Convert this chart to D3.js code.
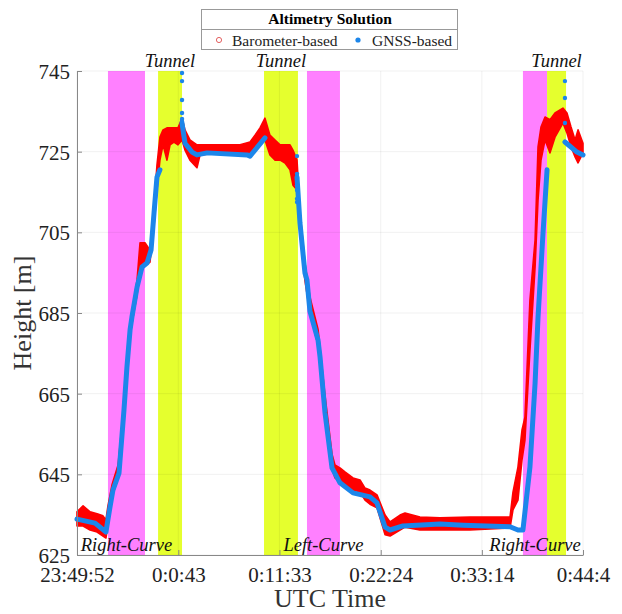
<!DOCTYPE html>
<html>
<head>
<meta charset="utf-8">
<script src="https://cdn.jsdelivr.net/npm/d3@7"></script>
<style>
  body { margin: 0; background: #fff; }
  text { font-family: "Liberation Serif", "DejaVu Serif", serif; }
</style>
</head>
<body>
<div id="chart"></div>
<script>
// time in seconds after 23:49:52, height in metres
const xTickValues = [0, 651, 1301, 1952, 2602, 3252];
const xTickLabels = ["23:49:52", "0:0:43", "0:11:33", "0:22:24", "0:33:14", "0:44:4"];
const yTickValues = [625, 645, 665, 685, 705, 725, 745];

// shaded segments: [start, end, kind]
const zoneStart = [199, 521, 1202, 1478, 2866, 3021];
const zoneEnd   = [437, 675, 1420, 1690, 3021, 3143];
const zoneKind  = ["curve", "tunnel", "tunnel", "curve", "curve", "tunnel"];

const labelText = ["Tunnel", "Tunnel", "Tunnel", "Right-Curve", "Left-Curve", "Right-Curve"];
const labelTime = [598, 1311, 3082, 318, 1584, 2944];
const labelPos  = ["top", "top", "top", "bottom", "bottom", "bottom"];

// barometer band (min / max of the dense point cloud)
const baroT  = [0, 39, 84, 129, 167, 186, 199, 225, 264, 289, 308, 328, 347, 366, 386, 405, 437, 469, 495, 514, 533, 553, 578, 598, 623, 649, 675, 694, 726, 771, 791, 919, 1048, 1112, 1144, 1176, 1208, 1240, 1273, 1305, 1337, 1369, 1388, 1414, 1433, 1465, 1497, 1549, 1594, 1639, 1658, 1690, 1722, 1774, 1819, 1851, 1883, 1928, 1980, 2012, 2076, 2108, 2204, 2333, 2526, 2783, 2802, 2834, 2860, 2879, 2911, 2944, 2963, 2982, 3008, 3040, 3072, 3123, 3149, 3175, 3201, 3220, 3252];
const baroLo = [632.2, 632.2, 631.2, 630.7, 629.7, 629.2, 632.4, 639.4, 644.1, 653.5, 663.4, 673.3, 680.8, 685.2, 689.5, 696.4, 696.9, 697.6, 706.8, 715.5, 722.9, 726.7, 722.9, 726.7, 727.4, 726.7, 727.9, 725.4, 722.9, 721.0, 724.2, 724.7, 724.7, 724.2, 725.4, 727.1, 727.9, 724.2, 722.9, 722.9, 722.2, 720.5, 716.7, 715.5, 705.5, 693.0, 685.0, 677.0, 660.5, 646.5, 644.1, 643.1, 641.6, 641.1, 640.6, 638.6, 637.6, 636.7, 630.0, 629.7, 631.2, 631.9, 631.2, 631.2, 631.2, 631.7, 636.2, 638.6, 648.6, 653.5, 675.8, 696.4, 713.0, 722.9, 727.9, 724.7, 728.6, 732.1, 729.6, 726.2, 723.7, 722.2, 724.7];
const baroHi = [635.7, 637.2, 635.7, 635.2, 634.7, 633.7, 637.2, 642.4, 647.3, 657.2, 667.2, 677.1, 683.8, 688.2, 693.2, 702.4, 702.4, 700.6, 711.8, 721.7, 728.6, 730.4, 730.9, 730.9, 730.9, 730.9, 733.3, 730.4, 727.9, 726.7, 726.7, 726.7, 726.7, 727.4, 729.1, 730.9, 733.3, 729.1, 727.9, 726.7, 726.7, 726.7, 725.4, 722.9, 710.0, 697.5, 689.0, 681.0, 664.5, 650.0, 647.3, 646.6, 645.6, 644.1, 643.6, 641.6, 641.1, 639.9, 634.9, 633.2, 634.9, 635.4, 634.4, 634.2, 634.4, 634.4, 640.6, 646.8, 656.0, 659.2, 688.2, 703.1, 726.2, 731.1, 733.6, 732.9, 734.6, 735.8, 734.6, 731.1, 727.9, 730.4, 727.1];

// GNSS track, null = no fix (tunnel)
const gnssT = [0, 116, 186, 212, 231, 270, 302, 321, 341, 353, 386, 418, 450, 476, 495, 514, 533, null,
               675, 694, 739, 771, 836, 1093, 1112, 1208, null,
               1414, 1433, 1465, 1478, 1497, 1549, 1562, 1594, 1639, 1690, 1774, 1883, 1928, 1980, 2012, 2095, 2333, 2481, 2783, 2834, 2866, 2911, 2944, 2963, 2995, 3021, null,
               3136, 3213, 3252];
const gnssH = [633.9, 632.9, 630.7, 636.9, 641.1, 645.3, 661.0, 671.6, 680.8, 684.0, 691.4, 696.4, 697.4, 700.6, 709.8, 718.7, 720.5, null,
               732.1, 727.1, 724.9, 724.2, 724.7, 724.2, 723.9, 728.4, null,
               718.7, 707.3, 694.9, 693.2, 685.5, 678.3, 674.1, 660.2, 646.6, 642.9, 640.4, 639.4, 637.9, 631.9, 631.2, 632.2, 632.7, 632.4, 632.0, 631.2, 631.2, 646.8, 667.6, 684.0, 704.8, 720.5, null,
               727.4, 724.9, 724.2];

// isolated GNSS fixes inside tunnels
const outT = [675, 675, 675, 675, 675, 675, 1414, 1414, 1414, 1414, 1414, 1414, 1414, 3136, 3136, 3136];
const outH = [744.5, 742.5, 737.8, 734.6, 733.1, 732.4, 723.9, 719.5, 718.5, 716.7, 715.5, 713.3, 712.5, 742.5, 738.3, 732.1];

const W = 622, H = 614;
const mLeft = 77, mRight = 583, mTop = 71, mBottom = 555;

const svg = d3.select("#chart").append("svg")
  .attr("width", W).attr("height", H);

const x = d3.scaleLinear().domain([0, 3252]).range([mLeft, mRight]);
const y = d3.scaleLinear().domain([625, 745]).range([mBottom, mTop]);

const zoneColor = { curve: "#ff80ff", tunnel: "#e5ff2e" };

// shaded zones
svg.append("g").selectAll("rect")
  .data(zoneStart.map((s, i) => [s, zoneEnd[i], zoneKind[i]]))
  .enter().append("rect")
  .attr("x", d => x(d[0]))
  .attr("y", y(745))
  .attr("width", d => x(d[1]) - x(d[0]))
  .attr("height", y(625) - y(745))
  .attr("fill", d => zoneColor[d[2]]);

// grid
const grid = svg.append("g").attr("stroke", "#000").attr("stroke-opacity", 0.06);
grid.selectAll(".gy").data(yTickValues).enter().append("line")
  .attr("x1", mLeft).attr("x2", mRight)
  .attr("y1", d => y(d)).attr("y2", d => y(d));
grid.selectAll(".gx").data(xTickValues).enter().append("line")
  .attr("y1", mTop).attr("y2", mBottom)
  .attr("x1", d => x(d)).attr("x2", d => x(d));

// barometer band
const baro = baroT.map((t, i) => ({ t: t, lo: baroLo[i], hi: baroHi[i] }));
svg.append("path")
  .datum(baro)
  .attr("fill", "#ff0000")
  .attr("stroke", "#ff0000")
  .attr("stroke-width", 1.6)
  .attr("stroke-linejoin", "round")
  .attr("d", d3.area()
    .x(d => x(d.t))
    .y0(d => y(d.lo))
    .y1(d => y(d.hi)));

// GNSS line
const gnss = gnssT.map((t, i) => ({ t: t, h: gnssH[i] }));
svg.append("path")
  .datum(gnss)
  .attr("fill", "none")
  .attr("stroke", "#1c86ea")
  .attr("stroke-width", 5)
  .attr("stroke-linejoin", "round")
  .attr("stroke-linecap", "round")
  .attr("d", d3.line()
    .defined(d => d.t !== null && d.h !== null)
    .x(d => x(d.t))
    .y(d => y(d.h)));

svg.append("g").selectAll("circle")
  .data(outT.map((t, i) => [t, outH[i]]))
  .enter().append("circle")
  .attr("cx", d => x(d[0]))
  .attr("cy", d => y(d[1]))
  .attr("r", 2.2)
  .attr("fill", "#1c86ea");

// zone labels
svg.append("g").selectAll("text")
  .data(labelText.map((s, i) => [s, labelTime[i], labelPos[i]]))
  .enter().append("text")
  .attr("x", d => x(d[1]))
  .attr("y", d => d[2] === "top" ? 67 : 551)
  .attr("text-anchor", "middle")
  .attr("font-style", "italic")
  .attr("font-size", 18.5)
  .attr("fill", "#111")
  .text(d => d[0]);

// axes
const yAxis = svg.append("g")
  .attr("transform", `translate(${mLeft},0)`)
  .call(d3.axisLeft(y).tickValues(yTickValues).tickSizeInner(-5).tickSizeOuter(0).tickPadding(7));
const xAxis = svg.append("g")
  .attr("transform", `translate(0,${mBottom})`)
  .call(d3.axisBottom(x).tickValues(xTickValues)
    .tickFormat((d, i) => xTickLabels[i])
    .tickSizeInner(-5).tickSizeOuter(0).tickPadding(12));
[xAxis, yAxis].forEach(a => {
  a.select(".domain").attr("stroke", "#888");
  a.selectAll(".tick line").attr("stroke", "#888");
  a.selectAll("text")
    .attr("font-family", "Liberation Serif")
    .attr("font-size", 21)
    .attr("fill", "#222");
});
yAxis.selectAll("text").attr("dy", "0.36em");

svg.append("text")
  .attr("x", 330).attr("y", 607)
  .attr("text-anchor", "middle")
  .attr("font-size", 26).attr("fill", "#333")
  .text("UTC Time");

svg.append("text")
  .attr("transform", `translate(31,${(mTop + mBottom) / 2}) rotate(-90)`)
  .attr("text-anchor", "middle")
  .attr("font-size", 26).attr("fill", "#333")
  .text("Height [m]");

// legend
const lg = svg.append("g");
lg.append("rect")
  .attr("x", 201.5).attr("y", 9.5).attr("width", 256).attr("height", 40)
  .attr("fill", "#fff").attr("stroke", "#999");
lg.append("line")
  .attr("x1", 201.5).attr("x2", 457.5).attr("y1", 29.5).attr("y2", 29.5)
  .attr("stroke", "#999");
lg.append("text")
  .attr("x", 330).attr("y", 24)
  .attr("text-anchor", "middle")
  .attr("font-weight", "bold").attr("font-size", 15.5)
  .text("Altimetry Solution");
lg.append("circle")
  .attr("cx", 219).attr("cy", 40).attr("r", 2.6)
  .attr("fill", "none").attr("stroke", "#e05050").attr("stroke-width", 0.9);
lg.append("text")
  .attr("x", 232).attr("y", 45.5).attr("font-size", 15.5).attr("fill", "#222")
  .text("Barometer-based");
lg.append("circle")
  .attr("cx", 358).attr("cy", 40).attr("r", 2.6)
  .attr("fill", "#1c86ea");
lg.append("text")
  .attr("x", 372).attr("y", 45.5).attr("font-size", 15.5).attr("fill", "#222")
  .text("GNSS-based");
</script>
</body>
</html>
